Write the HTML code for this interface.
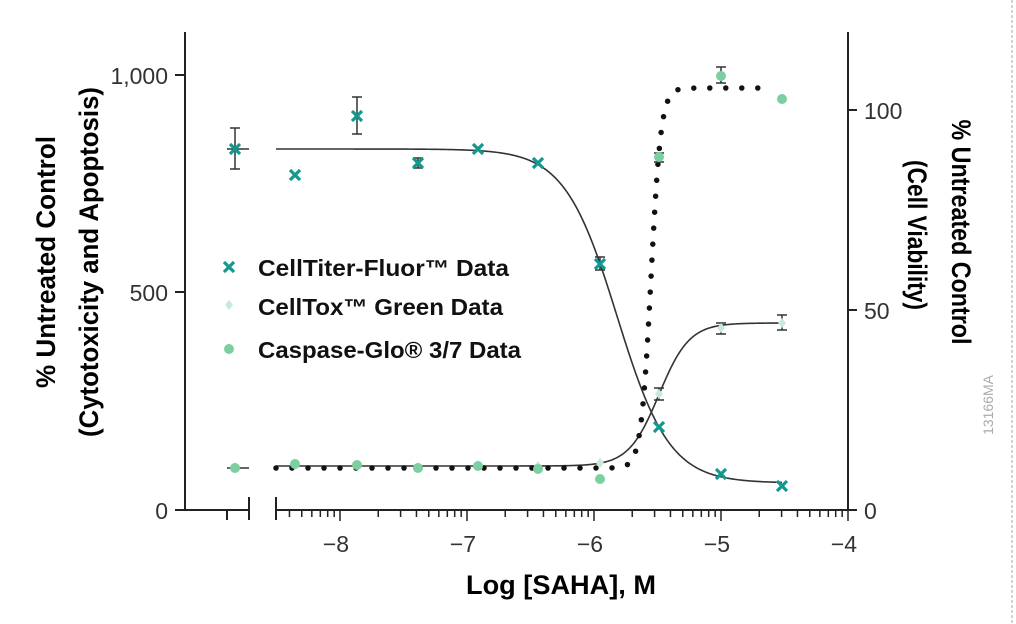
<!DOCTYPE html>
<html><head><meta charset="utf-8"><style>
html,body{margin:0;padding:0;background:#fff;}
svg{display:block;}
text{font-family:"Liberation Sans",sans-serif;}
.b{font-weight:bold;}
.t{font-size:23px;fill:#333;}
</style></head><body>
<svg id="s" width="1016" height="624" viewBox="0 0 1016 624" xmlns="http://www.w3.org/2000/svg">
<line x1="1012" y1="0" x2="1012" y2="624" stroke="#aaa" stroke-width="1" stroke-dasharray="3 2"/>
<g stroke="#222" stroke-width="2" fill="none">
<line x1="185" y1="32" x2="185" y2="511"/>
<line x1="848" y1="32" x2="848" y2="511"/>
<line x1="185" y1="510" x2="249" y2="510"/>
<line x1="276" y1="510" x2="848" y2="510"/>
<line x1="249" y1="497" x2="249" y2="520"/>
<line x1="276" y1="497" x2="276" y2="520"/>
<line x1="175" y1="75" x2="185" y2="75"/>
<line x1="175" y1="292" x2="185" y2="292"/>
<line x1="175" y1="510" x2="185" y2="510"/>
<line x1="848" y1="110" x2="857" y2="110"/>
<line x1="848" y1="310" x2="857" y2="310"/>
<line x1="848" y1="510" x2="857" y2="510"/>
<line x1="227" y1="510" x2="227" y2="520"/>
</g>
<g id="ticks" stroke="#222" stroke-width="1.5"></g>
<g class="t" text-anchor="end">
<text x="168" y="84">1,000</text>
<text x="168" y="301">500</text>
<text x="168" y="519">0</text>
</g>
<g class="t" text-anchor="start">
<text x="864" y="119">100</text>
<text x="864" y="319">50</text>
<text x="864" y="519">0</text>
</g>
<g class="t" text-anchor="middle">
<text x="336" y="552">−8</text>
<text x="463" y="552">−7</text>
<text x="590" y="552">−6</text>
<text x="717" y="552">−5</text>
<text x="844" y="552">−4</text>
</g>
<text class="b" x="466" y="594" font-size="27" textLength="190" lengthAdjust="spacingAndGlyphs">Log [SAHA], M</text>
<text class="b" font-size="27" text-anchor="middle" transform="translate(55,262) rotate(-90)" textLength="252" lengthAdjust="spacingAndGlyphs">% Untreated Control</text>
<text class="b" font-size="27" text-anchor="middle" transform="translate(98,262) rotate(-90)" textLength="350" lengthAdjust="spacingAndGlyphs">(Cytotoxicity and Apoptosis)</text>
<text class="b" font-size="27" text-anchor="middle" transform="translate(952,232) rotate(90)" textLength="225" lengthAdjust="spacingAndGlyphs">% Untreated Control</text>
<text class="b" font-size="27" text-anchor="middle" transform="translate(908,235) rotate(90)" textLength="150" lengthAdjust="spacingAndGlyphs">(Cell Viability)</text>
<text font-size="14" fill="#aaa" text-anchor="middle" transform="translate(993,405) rotate(-90)">13166MA</text>
<g id="curves" fill="none"></g>
<g id="pts"></g>
<g class="b" font-size="23" fill="#111">
<text x="258" y="276" textLength="251" lengthAdjust="spacingAndGlyphs">CellTiter-Fluor™ Data</text>
<text x="258" y="315" textLength="245" lengthAdjust="spacingAndGlyphs">CellTox™ Green Data</text>
<text x="258" y="358" textLength="263" lengthAdjust="spacingAndGlyphs">Caspase-Glo® 3/7 Data</text>
</g>
</svg>
<script>
var NS="http://www.w3.org/2000/svg";
function el(p,t,a){var e=document.createElementNS(NS,t);for(var k in a)e.setAttribute(k,a[k]);p.appendChild(e);return e;}
var tk=document.getElementById('ticks');
function X(v){return 848+(v+4)*127;}
for(var d=-9;d<-4;d++){for(var m=1;m<10;m++){var x=X(d+Math.log10(m));if(x<276||x>848)continue;el(tk,'line',{x1:x,y1:510,x2:x,y2:m==1?521:517});}}
el(tk,'line',{x1:848,y1:510,x2:848,y2:521});
var cv=document.getElementById('curves');
function logi(b,t,mid,k,x0,x1){var s='';for(var x=x0;x<=x1;x+=1){var y=b+(t-b)/(1+Math.exp(-k*(x-mid)));s+=(s?'L':'M')+x+' '+y.toFixed(2);}return s;}
el(cv,'path',{d:logi(149,483,617,0.0382,276,782),stroke:'#333','stroke-width':1.6});
el(cv,'path',{d:logi(466,323,659,0.066,276,782),stroke:'#333','stroke-width':1.6});
el(cv,'path',{d:logi(468,88,651,0.2,276,768),stroke:'#111','stroke-width':5.5,'stroke-linecap':'round','stroke-dasharray':'0 16'});
el(cv,'line',{x1:227,y1:468,x2:249,y2:468,stroke:'#333','stroke-width':1.6});
el(cv,'line',{x1:227,y1:149,x2:249,y2:149,stroke:'#333','stroke-width':1.6});
var P=document.getElementById('pts');
function err(x,y1,y2){el(P,'path',{d:'M'+x+' '+y1+'V'+y2+'M'+(x-5)+' '+y1+'H'+(x+5)+'M'+(x-5)+' '+y2+'H'+(x+5),stroke:'#333','stroke-width':1.5,fill:'none'});}
function cross(x,y){el(P,'path',{d:'M'+(x-5)+' '+(y-5)+'L'+(x+5)+' '+(y+5)+'M'+(x+5)+' '+(y-5)+'L'+(x-5)+' '+(y+5),stroke:'#12998f','stroke-width':3.2});}
function dot(x,y){el(P,'circle',{cx:x,cy:y,r:5,fill:'#7ccf9f'});}
function dia(x,y){el(P,'path',{d:'M'+x+' '+(y-5)+'L'+(x+4)+' '+y+'L'+x+' '+(y+5)+'L'+(x-4)+' '+y+'Z',fill:'#c8ead8'});}
err(235,128,169);err(357,97,134);err(418,158,168);err(600,257,270);
err(659,153,162);err(721,67,83);err(659,388,400);err(721,323,334);err(782,315,330);
var cas=[[235,468],[295,464],[357,465],[418,468],[478,466],[538,469],[600,479],[659,157],[721,76],[782,99]];
var tox=[[235,467],[295,465],[357,465],[418,467],[478,465],[538,466],[600,463],[659,394],[721,328],[782,323]];
var ctf=[[235,149],[295,175],[357,116],[418,163],[478,149],[538,163],[600,264],[659,427],[721,474],[782,486]];
tox.forEach(function(p){dia(p[0],p[1]);});
cas.forEach(function(p){dot(p[0],p[1]);});
ctf.forEach(function(p){cross(p[0],p[1]);});
cross(229,267);dia(229,305);dot(229,349);
</script>
</body></html>
